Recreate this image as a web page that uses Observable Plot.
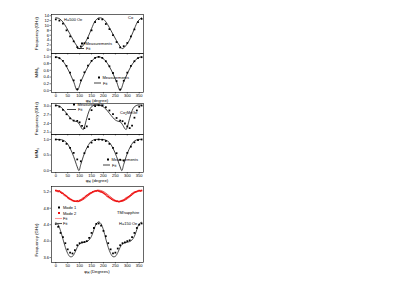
<!DOCTYPE html>
<html><head><meta charset="utf-8">
<script src="https://cdn.jsdelivr.net/npm/d3@7"></script>
<script src="https://cdn.jsdelivr.net/npm/@observablehq/plot@0.6"></script>
<style>
body{margin:0;background:#fff;}
#fig{position:relative;width:409px;height:289px;overflow:hidden;background:#fff;font-family:Arial,"Liberation Sans",sans-serif;}
#fig svg{position:absolute;left:0;overflow:visible;}
</style></head><body><div id="fig"></div>
<script>
// ---------- data ----------
const xTicks = [0,50,100,150,200,250,300,350];
const a15 = [0,15,30,45,60,75,90,105,120,135,150,165,180,195,210,225,240,255,270,285,300,315,330,345,360];
const a10 = [0,10,20,30,40,50,60,70,80,90,100,110,120,130,140,150,160,170,180,190,200,210,220,230,240,250,260,270,280,290,300,310,320,330,340,350,360];
const a5 = d3.range(0, 361, 5);

// Panel 1: Co, frequency (GHz)
const coFreqFitAngles = [0,15,30,45,60,75,90,98,105,120,135,150,165,180,195,210,225,240,255,270,278,285,300,315,330,345,360];
const coFreqFit  = [13.2,12.8,11.4,9.1,6.4,3.7,1.4,0.5,0.8,2.5,5.2,8.7,11.8,13.1,12.9,11.5,9.1,6.4,3.7,1.4,0.5,0.8,2.5,5.2,8.7,11.8,13.2];
const coFreqMeas = [12.5,12.0,10.8,8.0,5.5,3.5,1.1,1.4,2.7,4.8,8.0,11.4,12.6,12.5,10.6,8.5,6.0,3.2,1.0,1.5,2.8,5.5,8.4,11.4,12.7];

// Panel 2: Co, M/Ms
const coMFitAngles = [0,15,30,45,60,75,90,105,120,135,150,165,180,195,210,225,240,255,270,285,300,315,330,345,360];
const coMFit  = [1.0,0.97,0.87,0.71,0.5,0.26,0.0,0.26,0.5,0.71,0.87,0.97,1.0,0.97,0.87,0.71,0.5,0.26,0.0,0.26,0.5,0.71,0.87,0.97,1.0];
const coMMeas = [0.99,0.96,0.88,0.73,0.53,0.3,0.04,0.3,0.54,0.74,0.88,0.97,1.0,0.97,0.87,0.72,0.52,0.28,0.03,0.29,0.53,0.73,0.87,0.96,0.99];

// Panel 3: Co2MnGe, frequency (GHz)
const cmgFitAngles = [0,15,30,45,60,70,80,90,100,110,115,120,130,140,150,165,180,195,210,225,240,250,260,270,280,290,295,300,310,320,330,345,360];
const cmgFit = [3.03,3.0,2.9,2.75,2.6,2.52,2.48,2.46,2.36,2.22,2.19,2.28,2.58,2.84,2.98,3.04,3.03,3.0,2.9,2.75,2.6,2.52,2.48,2.46,2.36,2.22,2.19,2.28,2.58,2.84,2.98,3.04,3.03];
const cmgMeasAngles = [0,15,30,45,60,75,90,100,110,120,130,140,150,165,180,195,210,225,240,255,270,280,290,300,310,320,330,340,350,360];
const cmgMeas = [3.02,2.98,2.87,2.72,2.58,2.5,2.49,2.44,2.32,2.24,2.3,2.55,2.86,3.0,3.03,3.02,2.96,2.85,2.72,2.59,2.5,2.48,2.4,2.3,2.24,2.33,2.6,2.85,2.98,3.02];

// Panel 4: Co2MnGe, M/Ms
const cmgMFitAngles = [0,15,30,45,60,75,90,97,105,120,135,150,165,180,195,210,225,240,255,270,277,285,300,315,330,345,360];
const cmgMFit  = [1.0,1.0,0.98,0.9,0.72,0.45,0.12,0.0,0.2,0.55,0.8,0.95,1.0,1.0,1.0,0.98,0.9,0.72,0.45,0.12,0.0,0.2,0.55,0.8,0.95,1.0,1.0];
const cmgMMeas = [1.0,0.99,0.95,0.86,0.73,0.57,0.36,0.3,0.56,0.76,0.9,0.98,1.0,0.99,0.95,0.86,0.73,0.56,0.35,0.32,0.57,0.77,0.91,0.98,1.0];

// Panel 5: TM/sapphire, H=150 Oe
const mode1Fit  = [4.45,4.4,4.25,4.05,3.85,3.7,3.62,3.63,3.72,3.85,3.93,3.96,3.97,3.99,4.03,4.12,4.28,4.42,4.47,4.42,4.27,4.05,3.85,3.7,3.62,3.63,3.72,3.85,3.93,3.96,3.97,3.99,4.03,4.12,4.28,4.42,4.46];
const mode1Meas = [4.42,4.35,4.2,4.1,3.95,3.8,3.72,3.7,3.78,3.9,3.95,3.97,3.98,4.0,4.08,4.2,4.32,4.42,4.43,4.38,4.25,4.12,3.95,3.8,3.7,3.72,3.82,3.9,3.95,3.97,4.0,4.02,4.1,4.2,4.32,4.4,4.43];
const mode2Fit  = [5.24,5.22,5.17,5.1,5.03,4.98,4.96,4.98,5.03,5.1,5.17,5.22,5.24,5.22,5.17,5.1,5.03,4.98,4.96,4.98,5.03,5.1,5.17,5.22,5.24];
const mode2Meas = [5.23,5.22,5.21,5.22,5.19,5.17,5.16,5.13,5.11,5.09,5.06,5.04,5.02,5.01,4.99,4.98,4.97,4.97,4.98,4.97,4.99,5.0,5.02,5.04,5.06,5.09,5.11,5.13,5.15,5.17,5.18,5.2,5.21,5.22,5.22,5.23,5.22,
                   5.21,5.2,5.19,5.17,5.15,5.13,5.1,5.08,5.06,5.04,5.02,5.0,4.99,4.98,4.97,4.97,4.96,4.97,4.98,4.99,5.0,5.02,5.04,5.06,5.08,5.1,5.12,5.15,5.17,5.19,5.2,5.21,5.22,5.23,5.22,5.23];

// ---------- helpers ----------
const fig = d3.select("#fig");
const FL = 51, FR = 143, W = 147;
const XD = [-18, 368];
const FONT = "Arial, 'Liberation Sans', sans-serif";

function pts(xs, ys) { return xs.map((x, i) => ({x, y: ys[i]})).filter(d => d.y != null); }

function panel({top, frameTop, frameBottom, mb = 0, ydomain, yticks, yfmt, xlabels, marks}) {
  const mt = frameTop - top;
  const height = frameBottom - top + mb;
  const svg = Plot.plot({
    width: W, height, marginLeft: FL, marginRight: W - FR, marginTop: mt, marginBottom: mb,
    style: {fontSize: "4px", fontFamily: FONT, background: "transparent", overflow: "visible", color: "#000"},
    x: {domain: XD}, y: {domain: ydomain},
    marks: [
      ...marks,
      Plot.frame({stroke: "#000", strokeWidth: 0.6}),
      Plot.axisX({ticks: xTicks, tickSize: 1.5, tickPadding: 0.5, label: null, strokeWidth: 0.5,
                  tickFormat: xlabels ? (d => d) : (() => "")}),
      Plot.axisY({ticks: yticks, tickSize: 1.5, tickPadding: 1, label: null, strokeWidth: 0.5,
                  tickFormat: yfmt})
    ]
  });
  svg.style.top = top + "px";
  fig.node().appendChild(svg);
  const g = d3.select(svg).append("g").attr("font-family", FONT).attr("fill", "#000");
  return {
    text(x, y, parts, {size = 4, anchor = "start", rotate = false} = {}) {
      const t = g.append("text").attr("font-size", size).attr("text-anchor", anchor);
      if (rotate) t.attr("transform", `translate(${x},${y - top}) rotate(-90)`);
      else t.attr("x", x).attr("y", y - top);
      for (const p of parts) {
        const s = t.append("tspan").text(p[0]);
        if (p[1] === "sub") s.attr("font-size", size * 0.7).attr("baseline-shift", "-25%");
      }
      return t;
    },
    square(x, y, color, s = 2) {
      g.append("rect").attr("x", x - s / 2).attr("y", y - top - s / 2).attr("width", s).attr("height", s).attr("fill", color);
    },
    line(x1, x2, y, color, w = 0.8) {
      g.append("line").attr("x1", x1).attr("x2", x2).attr("y1", y - top).attr("y2", y - top).attr("stroke", color).attr("stroke-width", w);
    }
  };
}

const fitLine = (data, color = "#111", w = 0.8) => Plot.line(data, {x: "x", y: "y", stroke: color, strokeWidth: w, curve: "catmull-rom"});
const measDots = (data, color = "#000", r = 1.0) => Plot.dot(data, {x: "x", y: "y", symbol: "square", r, fill: color, stroke: "none"});
const f1 = d3.format(".1f");

// Panel 1
const p1 = panel({top: 12, frameTop: 14, frameBottom: 53, ydomain: [-1.5, 14.5], yticks: [0,2,4,6,8,10,12,14],
  yfmt: d => d, xlabels: false,
  marks: [fitLine(pts(coFreqFitAngles, coFreqFit)), measDots(pts(a15, coFreqMeas))]});
p1.text(38, 33.5, [["Frequency (GHz)"]], {size: 4.3, anchor: "middle", rotate: true});
p1.text(64, 21, [["H=500 Oe"]]);
p1.text(128, 18.5, [["Co"]]);
p1.square(82, 43.5, "#000");
p1.text(85.5, 45, [["Measurements"]]);
p1.line(77, 84, 48.5, "#111");
p1.text(86, 50, [["Fit"]]);

// Panel 2
const p2 = panel({top: 53, frameTop: 53, frameBottom: 92, mb: 16, ydomain: [-0.06, 1.1], yticks: [0,0.2,0.4,0.6,0.8,1.0],
  yfmt: f1, xlabels: true,
  marks: [fitLine(pts(coMFitAngles, coMFit)), measDots(pts(a15, coMMeas))]});
p2.text(38, 72.5, [["M/M"], ["s", "sub"]], {size: 4.3, anchor: "middle", rotate: true});
p2.text(97, 101.5, [["φ"], ["H", "sub"], [" (degree)"]], {size: 4.3, anchor: "middle"});
p2.square(99, 77.5, "#000");
p2.text(102.5, 79, [["Measurements"]]);
p2.line(94, 101, 83, "#111");
p2.text(103, 84.5, [["Fit"]]);

// Panel 3
const p3 = panel({top: 100, frameTop: 103, frameBottom: 134, ydomain: [2.02, 3.09], yticks: [2.1,2.4,2.7,3.0],
  yfmt: f1, xlabels: false,
  marks: [fitLine(pts(cmgFitAngles, cmgFit)), measDots(pts(cmgMeasAngles, cmgMeas))]});
p3.text(38, 118.5, [["Frequency (GHz)"]], {size: 4.3, anchor: "middle", rotate: true});
p3.square(74, 104.5, "#000");
p3.text(77.5, 106, [["Measurements"]]);
p3.line(67, 76, 109.5, "#111");
p3.text(78, 111, [["Fit"]]);
p3.text(120, 114, [["Co"], ["2", "sub"], ["MnGe"]]);

// Panel 4
const p4 = panel({top: 134, frameTop: 134, frameBottom: 172, mb: 16, ydomain: [-0.06, 1.16], yticks: [0,0.5,1.0],
  yfmt: f1, xlabels: true,
  marks: [fitLine(pts(cmgMFitAngles, cmgMFit)), measDots(pts(a15, cmgMMeas))]});
p4.text(38, 153, [["M/M"], ["s", "sub"]], {size: 4.3, anchor: "middle", rotate: true});
p4.text(97, 181.5, [["φ"], ["H", "sub"], [" (degree)"]], {size: 4.3, anchor: "middle"});
p4.square(108, 159.5, "#000");
p4.text(111.5, 161, [["Measurements"]]);
p4.line(103, 110, 165, "#111");
p4.text(112, 166.5, [["Fit"]]);

// Panel 5
const p5 = panel({top: 184, frameTop: 186, frameBottom: 262, mb: 14, ydomain: [3.48, 5.33], yticks: [3.6,4.0,4.4,4.8,5.2],
  yfmt: f1, xlabels: true,
  marks: [
    fitLine(pts(a15, mode2Fit), "#e83030", 0.8),
    measDots(pts(a5, mode2Meas), "#ee1111", 0.9),
    fitLine(pts(a10, mode1Fit), "#222", 0.8),
    measDots(pts(a10, mode1Meas), "#000", 1.0)
  ]});
p5.text(38, 240, [["Frequency (GHz)"]], {size: 4.3, anchor: "middle", rotate: true});
p5.text(97, 272.5, [["φ"], ["H", "sub"], [" (Degrees)"]], {size: 4.3, anchor: "middle"});
p5.square(59, 207.5, "#000");
p5.text(63, 209, [["Mode 1"]]);
p5.square(59, 213, "#ee1111");
p5.text(63, 214.5, [["Mode 2"]]);
p5.line(55, 62, 218.5, "#ff9a9a", 1.1);
p5.text(63, 220, [["Fit"]]);
p5.line(55, 62, 223.5, "#555", 1.1);
p5.text(63, 225, [["Fit"]]);
p5.text(117, 214, [["TM/sapphire"]]);
p5.text(119, 225, [["H=150 Oe"]]);
</script></body></html>
